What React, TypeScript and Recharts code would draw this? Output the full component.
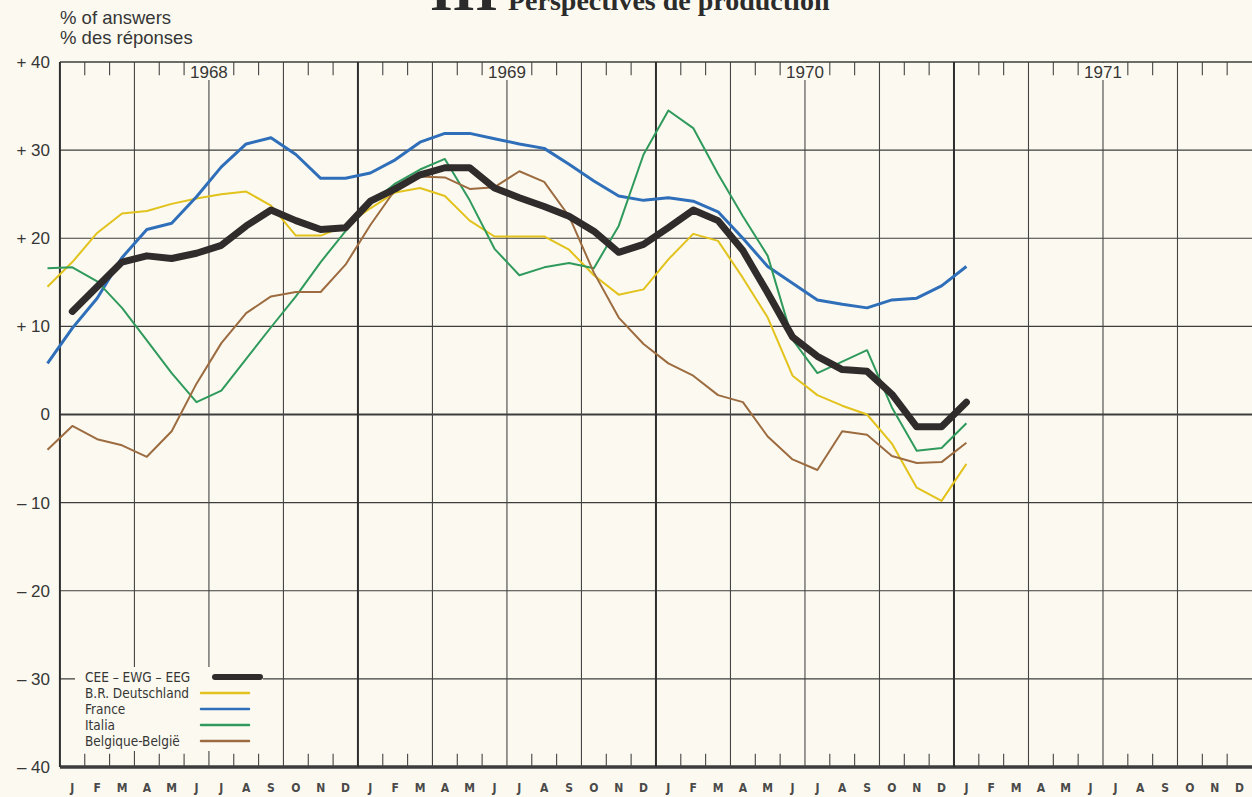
import React from 'react'
import { LineChart, Line, XAxis, YAxis, ReferenceLine, Legend } from 'recharts'

const MONTHS = ['J', 'F', 'M', 'A', 'M', 'J', 'J', 'A', 'S', 'O', 'N', 'D']
const YEARS = ['1968', '1969', '1970', '1971']
const Y_TICKS = [40, 30, 20, 10, 0, -10, -20, -30, -40]

// one value a month, Dec 1967 .. Jan 1971 (balance, % of answers)
const FIRST_MONTH = -1
const CEE = [null, 11.7, 14.5, 17.3, 18.0, 17.7, 18.3, 19.2, 21.4, 23.2, 22.0, 21.0, 21.2,
  24.2, 25.6, 27.2, 28.0, 28.0, 25.7, 24.6, 23.6, 22.5, 20.8, 18.4, 19.3,
  21.2, 23.2, 22.0, 18.6, 13.8, 8.8, 6.6, 5.1, 4.9, 2.3, -1.4, -1.4,
  1.4]
const BRD = [14.5, 17.3, 20.6, 22.8, 23.1, 23.9, 24.5, 25.0, 25.3, 23.7, 20.3, 20.3, 21.4,
  23.4, 25.2, 25.7, 24.8, 22.0, 20.2, 20.2, 20.2, 18.7, 15.8, 13.6, 14.2,
  17.6, 20.5, 19.7, 15.5, 11.0, 4.4, 2.2, 1.0, 0.0, -3.3, -8.3, -9.8,
  -5.6]
const FRANCE = [5.8, 9.8, 13.2, 17.8, 21.0, 21.7, 24.7, 28.1, 30.7, 31.4, 29.5, 26.8, 26.8,
  27.4, 28.9, 30.9, 31.9, 31.9, 31.3, 30.7, 30.2, 28.4, 26.5, 24.8, 24.3,
  24.6, 24.2, 23.0, 20.0, 16.8, 14.9, 13.0, 12.5, 12.1, 13.0, 13.2, 14.6,
  16.8]
const ITALIA = [16.6, 16.7, 15.1, 12.1, 8.4, 4.7, 1.4, 2.7, 6.3, 9.9, 13.4, 17.3, 20.8,
  23.9, 26.2, 27.8, 29.0, 24.3, 18.8, 15.8, 16.7, 17.2, 16.6, 21.4, 29.5,
  34.5, 32.5, 27.3, 22.5, 18.0, 8.5, 4.7, 6.0, 7.3, 0.8, -4.1, -3.8,
  -1.0]
const BELGIQUE = [-4.0, -1.3, -2.8, -3.5, -4.8, -1.9, 3.5, 8.1, 11.5, 13.4, 13.9, 13.9, 17.0,
  21.5, 25.5, 27.0, 26.9, 25.6, 25.8, 27.6, 26.4, 22.5, 16.1, 11.0, 8.0,
  5.8, 4.4, 2.2, 1.4, -2.5, -5.1, -6.3, -1.9, -2.3, -4.7, -5.5, -5.4,
  -3.2]

const SERIES = [
  { key: 'cee', name: 'CEE – EWG – EEG', color: '#302c2c', width: 7 },
  { key: 'brd', name: 'B.R. Deutschland', color: '#e2c21c', width: 2 },
  { key: 'fr', name: 'France', color: '#2f6fba', width: 3 },
  { key: 'it', name: 'Italia', color: '#2f9a5c', width: 2 },
  { key: 'be', name: 'Belgique-België', color: '#9c6b40', width: 2 },
]

const data = CEE.map((v, i) => ({
  m: FIRST_MONTH + i + 0.5,
  cee: v,
  brd: BRD[i],
  fr: FRANCE[i],
  it: ITALIA[i],
  be: BELGIQUE[i],
}))

const PAPER = '#fcfaf0'
const INK = '#363636'
const COND = "'DejaVu Sans Condensed', 'DejaVu Sans', sans-serif"
const SANS = "'Liberation Sans', Arial, sans-serif"
const SERIF = "'Liberation Serif', 'DejaVu Serif', serif"

const monthCenters = Array.from({ length: 48 }, (_, k) => k + 0.5)
const monthTicks = Array.from({ length: 47 }, (_, k) => k + 1).filter(k => k % 3 !== 0)
const quarterLines = Array.from({ length: 15 }, (_, k) => (k + 1) * 3).filter(k => k % 12 !== 0)

const yTick = (props: any) => {
  const v = props.payload.value
  const label = v > 0 ? `+ ${v}` : v < 0 ? `– ${-v}` : '0'
  return (
    <text x={50} y={props.y} dy="0.35em" textAnchor="end" fontFamily={SANS} fontSize={17} fill={INK}>
      {label}
    </text>
  )
}

const yearLabel = (text: string) => (props: any) => {
  const vb = props.viewBox
  return (
    <g>
      <rect x={vb.x - 23} y={vb.y + 1} width={46} height={17} fill={PAPER} />
      <text x={vb.x} y={vb.y + 10} dy="0.35em" textAnchor="middle" fontFamily={SANS} fontSize={17} fill={INK}>
        {text}
      </text>
    </g>
  )
}

const renderLegend = () => (
  <svg width={188} height={84} style={{ display: 'block' }}>
    {SERIES.map((s, i) => (
      <g key={s.key}>
        <text x={10} y={10 + i * 16} dy="0.35em" fontFamily={COND} fontSize={13.5} fontWeight={500} fill={INK}>
          {s.name}
        </text>
        <line
          x1={i === 0 ? 140 : 126}
          x2={i === 0 ? 185 : 174}
          y1={10 + i * 16}
          y2={10 + i * 16}
          stroke={s.color}
          strokeWidth={i === 0 ? 6 : 2.5}
          strokeLinecap="round"
        />
      </g>
    ))}
  </svg>
)

export default function App() {
  return (
    <div style={{ position: 'relative', width: 1252, height: 797, background: PAPER, overflow: 'hidden' }}>
      <style>{'body{margin:0}'}</style>

      <div style={{ position: 'absolute', left: 430, top: -41, fontFamily: SERIF, fontWeight: 700, fontSize: 58, lineHeight: '64px', color: '#2b2b2b' }}>
        III
      </div>
      <div style={{ position: 'absolute', left: 508, top: -15, fontFamily: SERIF, fontWeight: 700, fontSize: 28, lineHeight: '32px', color: '#2b2b2b' }}>
        Perspectives de production
      </div>
      <div style={{ position: 'absolute', left: 60, top: 8, fontFamily: SANS, fontSize: 18.5, color: INK, lineHeight: '20px' }}>
        % of answers<br />% des réponses
      </div>

      <LineChart width={1252} height={797} data={data} margin={{ top: 62, right: 0, bottom: 0, left: 0 }}>
        <XAxis
          type="number"
          dataKey="m"
          domain={[-0.5, 48]}
          ticks={monthCenters}
          interval={0}
          tickFormatter={v => MONTHS[Math.floor(v) % 12]}
          axisLine={false}
          tickLine={false}
          tickSize={6}
          tickMargin={10}
          height={30}
          tick={{ fontFamily: COND, fontSize: 12, fontWeight: 700, fill: '#4a4a4a' }}
        />
        <YAxis
          type="number"
          domain={[-40, 40]}
          ticks={Y_TICKS}
          interval={0}
          width={47.5}
          axisLine={false}
          tickLine={false}
          tick={yTick}
        />

        {/* horizontal grid, every 10 */}
        {Y_TICKS.map(v => (
          <ReferenceLine
            key={`h${v}`}
            segment={[{ x: 0, y: v }, { x: 48, y: v }]}
            stroke="#3d3d3d"
            strokeWidth={v === 0 ? 2 : v === -40 ? 3.5 : v === 40 ? 1.5 : 1.1}
          />
        ))}

        {/* quarters and years */}
        {quarterLines.map(q => (
          <ReferenceLine
            key={`q${q}`}
            x={q}
            stroke="#444"
            strokeWidth={1.1}
            label={q % 12 === 6 ? yearLabel(YEARS[(q - 6) / 12]) : undefined}
          />
        ))}
        {[0, 12, 24, 36].map(y => (
          <ReferenceLine key={`y${y}`} x={y} stroke="#2e2e2e" strokeWidth={2} />
        ))}

        {/* month ticks, top and bottom */}
        {monthTicks.map(k => (
          <ReferenceLine key={`tt${k}`} segment={[{ x: k, y: 40 }, { x: k, y: 38.5 }]} stroke="#444" strokeWidth={1.1} />
        ))}
        {monthTicks.map(k => (
          <ReferenceLine key={`tb${k}`} segment={[{ x: k, y: -40 }, { x: k, y: -38.5 }]} stroke="#444" strokeWidth={1.1} />
        ))}

        <Legend
          layout="vertical"
          align="center"
          verticalAlign="middle"
          content={renderLegend}
          wrapperStyle={{ left: 75, top: 667, width: 188, height: 84, background: PAPER }}
        />

        {SERIES.slice(1).map(s => (
          <Line
            key={s.key}
            type="linear"
            dataKey={s.key}
            name={s.name}
            stroke={s.color}
            strokeWidth={s.width}
            dot={false}
            strokeLinejoin="round"
            isAnimationActive={false}
          />
        ))}
        <Line
          type="linear"
          dataKey="cee"
          name={SERIES[0].name}
          stroke={SERIES[0].color}
          strokeWidth={SERIES[0].width}
          strokeLinecap="round"
          strokeLinejoin="round"
          dot={false}
          isAnimationActive={false}
        />
      </LineChart>
    </div>
  )
}
